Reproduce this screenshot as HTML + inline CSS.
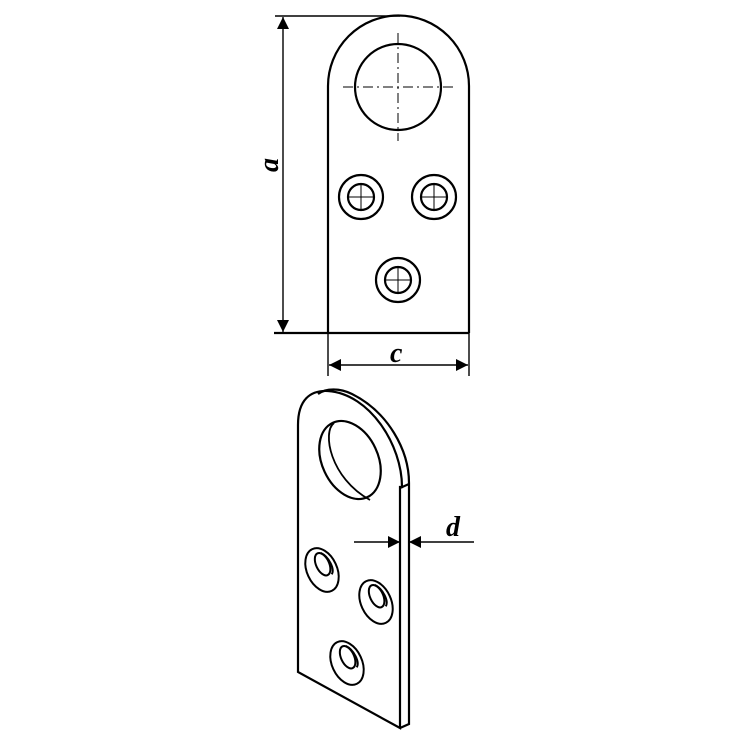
<!DOCTYPE html>
<html><head><style>html,body{margin:0;padding:0;background:#fff;width:737px;height:737px;overflow:hidden}</style></head>
<body>
<svg width="737" height="737" viewBox="0 0 737 737" xmlns="http://www.w3.org/2000/svg">
<defs>
<marker id="ar" viewBox="0 0 10 10" refX="10" refY="5" markerWidth="16" markerHeight="12" markerUnits="userSpaceOnUse" orient="auto-start-reverse"><path d="M0,0 L10,5 L0,10 z" fill="#000"/></marker>
<g id="h" fill="none" stroke="#000"><circle cx="0" cy="0" r="22" stroke-width="2.2"/><circle cx="0" cy="0" r="13" stroke-width="2.2"/><line x1="-13" y1="0" x2="13" y2="0" stroke-width="1"/><line x1="0" y1="-13" x2="0" y2="13" stroke-width="1"/></g>
<g id="sh" fill="none" stroke="#000" stroke-width="2"><ellipse rx="15" ry="23"/><ellipse cx="3" cy="-5" rx="6.5" ry="12"/><path d="M6,-16 C12,-9 12,5 7,8"/></g>
</defs>
<g fill="none" stroke="#000" stroke-width="2.2">
<path d="M328,333 L328,86 A70.5,70.5 0 0 1 469,86 L469,333"/>
<line x1="274" y1="333" x2="469" y2="333"/>
<line x1="275" y1="16" x2="400" y2="16" stroke-width="1.4"/>
<line x1="283" y1="17" x2="283" y2="332" stroke-width="1.4" marker-start="url(#ar)" marker-end="url(#ar)"/>
<line x1="328" y1="333" x2="328" y2="376" stroke-width="1.4"/>
<line x1="469" y1="333" x2="469" y2="376" stroke-width="1.4"/>
<line x1="329" y1="365" x2="468" y2="365" stroke-width="1.4" marker-start="url(#ar)" marker-end="url(#ar)"/>
<circle cx="398" cy="87" r="43"/>
<line x1="343" y1="87" x2="453" y2="87" stroke-width="1" stroke-dasharray="10,4,2,4"/>
<line x1="398" y1="33" x2="398" y2="141" stroke-width="1" stroke-dasharray="10,4,2,4"/>
</g>
<use href="#h" x="361" y="197"/>
<use href="#h" x="434" y="197"/>
<use href="#h" x="398" y="280"/>
<g fill="none" stroke="#000" stroke-width="2.2">
<path d="M298,672 L298,425 C298,400 310,390 328,391 C370,394 402,445 402,487 L400,487 L400,728 Z"/>
<path d="M318,394 C326,388 340,388 352,394 C388,412 409,450 409,483 L409,724 L400,728"/>
<line x1="400" y1="488" x2="409" y2="484"/>
<ellipse cx="350" cy="460" rx="28" ry="41" transform="rotate(-25 350 460)"/>
<path d="M334,423 C322,432 330,478 370,500" stroke-width="1.8"/>
<line x1="354" y1="542" x2="400" y2="542" stroke-width="1.4" marker-end="url(#ar)"/>
<line x1="474" y1="542" x2="409" y2="542" stroke-width="1.4" marker-end="url(#ar)"/>
</g>
<use href="#sh" transform="translate(322,570) rotate(-25)"/>
<use href="#sh" transform="translate(376,602) rotate(-25)"/>
<use href="#sh" transform="translate(347,663) rotate(-25)"/>
<g font-family="Liberation Serif, serif" font-style="italic" font-weight="bold" font-size="28" fill="#000">
<text x="390" y="362">c</text>
<text x="446" y="536">d</text>
<text transform="translate(278,165) rotate(-90)" text-anchor="middle">a</text>
</g>
</svg>
</body></html>
